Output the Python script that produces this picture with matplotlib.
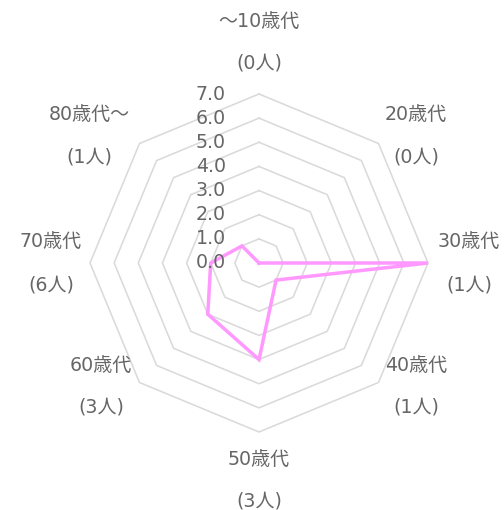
import numpy as np
import matplotlib
matplotlib.use("Agg")
import matplotlib.pyplot as plt

plt.rcParams['font.family'] = ['DejaVu Sans', 'Noto Sans CJK JP']

# age groups round the chart, clockwise from the top
categories = ['～10歳代', '20歳代', '30歳代', '40歳代', '50歳代', '60歳代', '70歳代', '80歳代～']
counts = [0, 0, 1, 1, 3, 3, 6, 1]
# values as drawn by the pink line
values = [0, 0, 7, 1, 4, 3, 2, 1]
ticks = [0, 1, 2, 3, 4, 5, 6, 7]

TEXT = '#666666'
GRID = '#dadada'
LINE = '#ff99ff'
FS = 19

fig = plt.figure(figsize=(7.0, 510 / 72), dpi=72)
ax = fig.add_axes([90 / 504, 78 / 510, 338 / 504, 338 / 510], projection='polar')
ax.set_theta_zero_location('N')
ax.set_theta_direction(-1)
ax.set_ylim(0, 7)
ax.set_axis_off()

n = len(categories)
angles = np.linspace(0, 2 * np.pi, n, endpoint=False)
closed = np.append(angles, angles[0])

# octagon rings
for r in ticks[1:]:
    ax.plot(closed, [r] * (n + 1), color=GRID, lw=1.6, clip_on=False, zorder=1)

# tick labels left of the vertical axis
for r in ticks:
    ax.annotate(f"{r:.1f}", xy=(0, r), xytext=(-33, 0), textcoords='offset points',
                ha='right', va='center', fontsize=FS, color=TEXT, zorder=3)

# data line
vals = values + values[:1]
ax.plot(closed, vals, color=LINE, lw=3.5, solid_joinstyle='miter',
        clip_on=False, zorder=2)

# point labels, two lines each: (dx, dy of name, dy of count) from the outer vertex
label_pos = [(0, 71.5, 31), (37.5, 28.5, -13.5), (41, 21, -22), (37.5, 16.5, -24.5),
             (0, -28, -69), (-38.5, 16.5, -24.5), (-39, 21, -22), (-50, 28.5, -13.5)]
for a, cat, c, (dx, dy1, dy2) in zip(angles, categories, counts, label_pos):
    ax.annotate(cat, xy=(a, 7), xytext=(dx, dy1), textcoords='offset points',
                ha='center', va='center', fontsize=FS, color=TEXT)
    ax.annotate(f"({c}人)", xy=(a, 7), xytext=(dx, dy2), textcoords='offset points',
                ha='center', va='center', fontsize=FS, color=TEXT)

fig.savefig('out.png', dpi=72)
